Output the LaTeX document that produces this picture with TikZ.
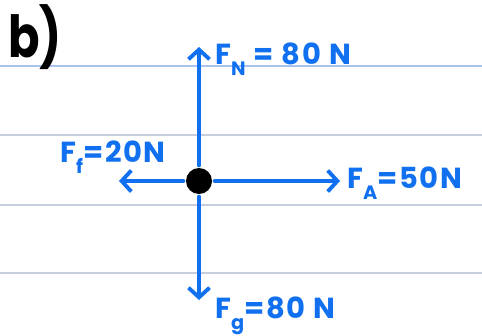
\documentclass[tikz,border=0pt]{standalone}
\usepackage{fontspec}
\setmainfont{Poppins}
\usetikzlibrary{arrows.meta}
\definecolor{pen}{RGB}{16,112,240}
\definecolor{rule}{RGB}{196,206,222}
\definecolor{ruletop}{RGB}{168,196,236}
\newcommand{\forcelbl}[3]{#1\raisebox{-0.7ex}{\fontsize{11}{11}\selectfont #2}#3}

\begin{document}
\begin{tikzpicture}[x=0.02cm,y=-0.02cm,
    force/.style={draw=pen,line width=2.2pt,line cap=round,
      -{Straight Barb[length=5.5pt,width=12pt,line width=2.2pt]}},
    flabel/.style={text=pen,font=\fontsize{16.5}{16.5}\selectfont\bfseries\addfontfeatures{LetterSpace=6},inner sep=0pt,anchor=base west},
    paper/.style={line width=0.8pt}]
    \useasboundingbox (0,0) rectangle (482,335);
    \draw[paper,ruletop] (0,66) -- (482,66);
    \draw[paper,rule] (0,135) -- (482,135);
    \draw[paper,rule] (0,205) -- (482,205);
    \draw[paper,rule] (0,273) -- (482,273);
    \node[anchor=north west,inner sep=0pt,xscale=0.8,font=\fontsize{33}{33}\selectfont\bfseries] (part) at (8,4) {b)};
    \node[circle,fill=black,minimum size=0.52cm,inner sep=0pt,outer sep=1.5pt] (ball) at (199,181) {};
    \coordinate (nTip) at (199,47);
    \coordinate (gTip) at (199,300);
    \coordinate (fTip) at (119,181);
    \coordinate (aTip) at (340,181);
    \draw[force] (ball) -- (nTip);
    \draw[force] (ball) -- (gTip);
    \draw[force] (ball) -- (fTip);
    \draw[force] (ball) -- (aTip);
    \node[flabel] (nText) at (215,64) {\forcelbl{F}{N}{ = 80 N}};
    \node[flabel] (fText) at (60,162) {\forcelbl{F}{f}{=20N}};
    \node[flabel] (aText) at (347,188) {\forcelbl{F}{A}{=50N}};
    \node[flabel] (gText) at (215,318) {\forcelbl{F}{g}{=80 N}};
\end{tikzpicture}
\end{document}
